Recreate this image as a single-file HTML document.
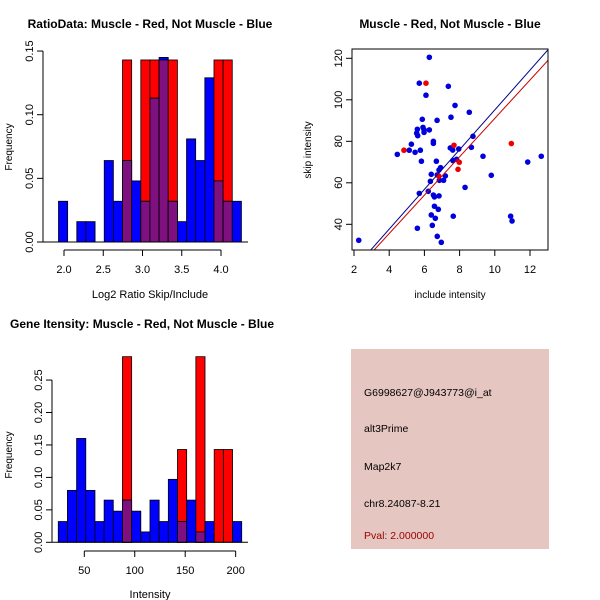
<!DOCTYPE html>
<html><head><meta charset="utf-8"><style>
html,body{margin:0;padding:0;background:#fff;}
svg{display:block;font-family:"Liberation Sans",Arial,sans-serif;}
</style></head><body>
<svg id="c" width="600" height="600" xmlns="http://www.w3.org/2000/svg"></svg>
<script>
// ---- Histogram 1 data (Log2 ratio) ----
const h1Start = 1.93;
const h1Width = 0.1165;
const h1Blue = [0.032,0,0.016,0.016,0,0.064,0.032,0.064,0.048,0.032,0.113,0.145,0.032,0.016,0.081,0.064,0.129,0.048,0.032,0.032];
const h1Red  = [0,0,0,0,0,0,0,0.143,0,0.143,0.143,0.143,0.143,0,0,0,0,0.143,0.143,0];
const h1XTicks = [2.0,2.5,3.0,3.5,4.0];
const h1YTicks = [0.00,0.05,0.10,0.15];
// ---- Histogram 2 data (Intensity) ----
const h2Start = 24.2;
const h2Width = 9.09;
const h2Blue = [0.032,0.080,0.160,0.080,0.032,0.065,0.048,0.065,0.048,0.016,0.065,0.032,0.097,0.032,0.065,0.016,0.032,0,0,0.032];
const h2Red  = [0,0,0,0,0,0,0,0.286,0,0,0,0,0,0.143,0,0.286,0,0.143,0.143,0];
const h2XTicks = [50,100,150,200];
const h2YTicks = [0.00,0.05,0.10,0.15,0.20,0.25];
// ---- Scatter data ----
const blueX = [6.28,5.71,6.09,7.36,7.74,8.55,5.88,6.72,7.51,5.92,5.6,5.98,6.28,5.56,5.98,5.62,6.51,6.51,8.76,5.26,4.46,5.14,5.47,5.77,7.47,7.61,7.95,8.67,9.33,5.83,6.68,7.62,7.83,6.92,6.83,6.39,6.73,7.19,9.8,6.34,6.85,7.09,8.31,6.22,5.71,6.51,6.57,6.83,6.57,6.79,6.39,6.62,7.64,6.45,5.6,6.73,6.96,2.27,10.9,10.98,11.87,12.64];
const blueY = [120.5,108,102.2,106.5,97.3,94,90.6,90.1,91.6,86.7,85.8,85.5,85.5,83.9,84.3,82.7,80,79,82.4,78.6,73.7,75.7,74.7,75.7,76.8,75.8,76.3,77.1,72.8,70.4,70.4,70.7,71.3,67.3,66.2,64.1,63.8,63.3,63.6,60.7,61.2,61.2,57.8,55.9,54.9,54.1,53.2,53.7,48.7,47.2,44.5,42.9,43.9,39.5,38.1,34.2,31.3,32.3,43.9,41.6,70,72.8];
const redX = [4.84,6.09,7.68,7.98,7.91,10.94,6.81];
const redY = [75.7,108,78.1,69.9,66.5,78.9,63.3];
const blueFit = [-0.66, 9.58];
const redFit = [-1.45, 9.25];
const sXTicks = [2,4,6,8,10,12];
const sYTicks = [40,60,80,100,120];

const svg = document.getElementById('c');
const NS = 'http://www.w3.org/2000/svg';
function mk(tag, attrs, parent){ const e=document.createElementNS(NS,tag); for(const k in attrs) e.setAttribute(k,attrs[k]); (parent||svg).appendChild(e); return e; }
function txt(s, x, y, opts, parent){ const t=mk('text',Object.assign({x:x,y:y,'font-size':11,'text-anchor':'middle',fill:'#000'},opts||{}),parent); t.textContent=s; return t; }

function hist(g, cfg){
  const X=v=>cfg.x0+(v-cfg.xv0)*cfg.xs;
  const Y=v=>cfg.y0-v*cfg.ys;
  for(let i=0;i<cfg.blue.length;i++){
    const a=cfg.start+i*cfg.width, b=a+cfg.width;
    const r=cfg.red[i], bl=cfg.blue[i];
    if(r>0){ const e=mk('rect',{x:X(a),y:Y(r),width:X(b)-X(a),height:Y(0)-Y(r),fill:'#ff0000',stroke:'#000','stroke-width':0.8},g);
        }
    if(bl>0){ const e=mk('rect',{x:X(a),y:Y(bl),width:X(b)-X(a),height:Y(0)-Y(bl),fill:'#0000ff',stroke:'#000','stroke-width':0.8},g);
        }
    if(r>0&&bl>0){ const m=Math.min(r,bl); const e=mk('rect',{x:X(a),y:Y(m),width:X(b)-X(a),height:Y(0)-Y(m),fill:'#7f1080',stroke:'#000','stroke-width':0.8},g);
        }
  }
  mk('line',{x1:cfg.yAxisX,y1:Y(0),x2:cfg.baseEnd,y2:Y(0),stroke:'#000'},g);
  // y axis
  const ya=mk('g',{},g);  
  mk('line',{x1:cfg.yAxisX,y1:Y(cfg.yt[0]),x2:cfg.yAxisX,y2:Y(cfg.yt[cfg.yt.length-1]),stroke:'#000'},ya);
  cfg.yt.forEach(v=>{ mk('line',{x1:cfg.yAxisX,y1:Y(v),x2:cfg.yAxisX-6,y2:Y(v),stroke:'#000'},ya);
    const t=txt(v.toFixed(2),0,0,{transform:`translate(${cfg.yAxisX-10},${Y(v)}) rotate(-90)`},ya);
      });
  // x axis
  const xa=mk('g',{},g);  
  mk('line',{x1:X(cfg.xt[0]),y1:cfg.xAxisY,x2:X(cfg.xt[cfg.xt.length-1]),y2:cfg.xAxisY,stroke:'#000'},xa);
  cfg.xt.forEach(v=>{ mk('line',{x1:X(v),y1:cfg.xAxisY,x2:X(v),y2:cfg.xAxisY+6,stroke:'#000'},xa);
    const t=txt(cfg.fmt(v),X(v),cfg.xAxisY+23,{},xa);
      });
}

// Histogram 1
const g1=mk('g',{});  
hist(g1,{start:h1Start,width:h1Width,blue:h1Blue,red:h1Red,x0:64,xv0:2,xs:78.5,y0:242,ys:1273,yAxisX:43,baseEnd:248,xAxisY:250,xt:h1XTicks,yt:h1YTicks,fmt:v=>v.toFixed(1)});
let t;
t=txt('RatioData: Muscle - Red, Not Muscle - Blue',150,28,{'font-weight':'bold','font-size':12},g1);  
t=txt('Log2 Ratio Skip/Include',150,298,{},g1);  
t=txt('Frequency',0,0,{transform:'translate(12,147) rotate(-90)','font-size':10},g1);  

// Histogram 2
const g2=mk('g',{});  
hist(g2,{start:h2Start,width:h2Width,blue:h2Blue,red:h2Red,x0:84.3,xv0:50,xs:1.009,y0:542.3,ys:649,yAxisX:52,baseEnd:248,xAxisY:551,xt:h2XTicks,yt:h2YTicks,fmt:v=>String(v)});
t=txt('Gene Itensity: Muscle - Red, Not Muscle - Blue',10,328,{'font-weight':'bold','font-size':12,'text-anchor':'start'},g2);  
t=txt('Intensity',150,598,{},g2);  
t=txt('Frequency',0,0,{transform:'translate(12,455) rotate(-90)','font-size':10},g2);  

// Scatter
const g3=mk('g',{});  
const SX=v=>354+(v-2)*17.6, SY=v=>224.3-(v-40)*2.075;
const L=352,R=548,T=49,B=250;
const cp=mk('clipPath',{id:'sc'},g3); mk('rect',{x:L,y:T,width:R-L,height:B-T},cp);
const pts=mk('g',{'clip-path':'url(#sc)'},g3);
for(let i=0;i<blueX.length;i++){ const c=mk('circle',{cx:SX(blueX[i]),cy:SY(blueY[i]),r:2.8,fill:'#0000dd'},pts);
    }
for(let i=0;i<redX.length;i++){ const c=mk('circle',{cx:SX(redX[i]),cy:SY(redY[i]),r:2.8,fill:'#ee0000'},pts);
    }
let ln=mk('line',{x1:SX(1),y1:SY(blueFit[0]+blueFit[1]*1),x2:SX(14),y2:SY(blueFit[0]+blueFit[1]*14),stroke:'#000088','stroke-width':1},pts);
 
ln=mk('line',{x1:SX(1),y1:SY(redFit[0]+redFit[1]*1),x2:SX(14),y2:SY(redFit[0]+redFit[1]*14),stroke:'#cc0000','stroke-width':1},pts);
 
const box=mk('rect',{x:L,y:T,width:R-L,height:B-T,fill:'none',stroke:'#000'},g3);
 
sXTicks.forEach(v=>{ mk('line',{x1:SX(v),y1:B,x2:SX(v),y2:B+6,stroke:'#000'},g3);
  const tt=txt(String(v),SX(v),B+23,{},g3);   });
sYTicks.forEach(v=>{ mk('line',{x1:L,y1:SY(v),x2:L-6,y2:SY(v),stroke:'#000'},g3);
  const tt=txt(String(v),0,0,{transform:`translate(${L-10},${SY(v)}) rotate(-90)`},g3);   });
t=txt('Muscle - Red, Not Muscle - Blue',450,28,{'font-weight':'bold','font-size':12},g3);  
t=txt('include intensity',450,298,{'font-size':10},g3);  
t=txt('skip intensity',0,0,{transform:'translate(311,150) rotate(-90)','font-size':10},g3);  

// Info panel
const g4=mk('g',{});  
mk('rect',{x:351,y:349,width:198,height:200,fill:'#e6c6c0'},g4);
const info=[['G6998627@J943773@i_at',396,'#000','probe-id'],['alt3Prime',432,'#000','event-type'],['Map2k7',470,'#000','gene-name'],['chr8.24087-8.21',507,'#000','location'],['Pval: 2.000000',539,'#990000','p-value']];
info.forEach(a=>{ const tt=txt(a[0],364,a[1],{'text-anchor':'start','font-size':10.5,fill:a[2]},g4);   });
</script>
</body></html>
